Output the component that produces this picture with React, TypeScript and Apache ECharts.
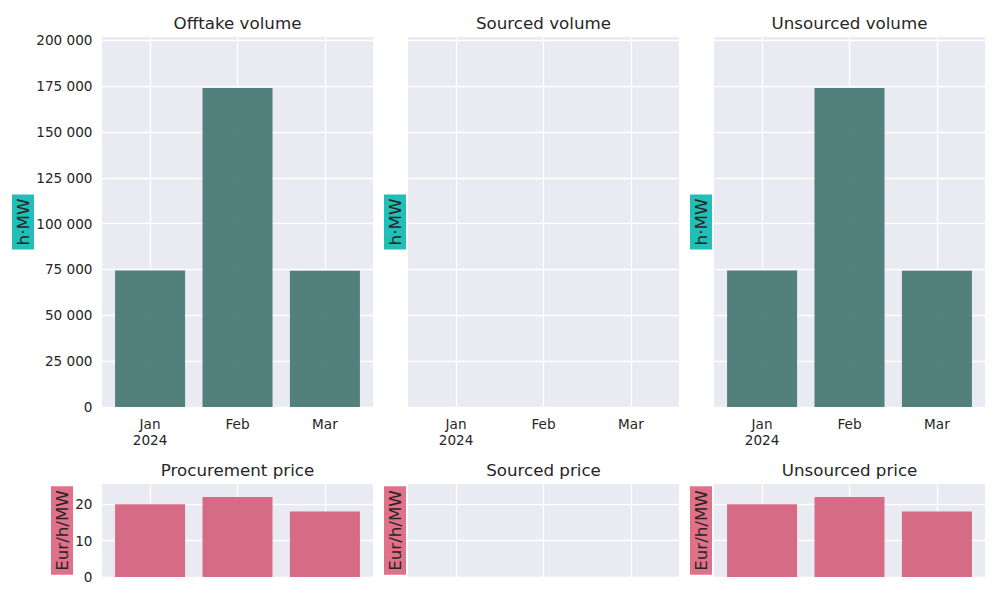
import React, { useEffect, useRef } from "react";
import * as echarts from "echarts";

// Monthly categories
const months = ["Jan\n2024", "Feb", "Mar"];
const monthPos = [0, 1, 2];

// Volumes in h·MW
const offtakeVolume = [74400, 174000, 74300];
const sourcedVolume = [0, 0, 0];
const unsourcedVolume = [74400, 174000, 74300];

// Prices in Eur/h/MW
const procurementPrice = [20, 22, 18];
const sourcedPrice = [0, 0, 0];
const unsourcedPrice = [20, 22, 18];

const volumeTicks = [0, 25000, 50000, 75000, 100000, 125000, 150000, 175000, 200000];
const priceTicks = [0, 10, 20];

const volumeTitles = ["Offtake volume", "Sourced volume", "Unsourced volume"];
const priceTitles = ["Procurement price", "Sourced price", "Unsourced price"];

const FONT = "DejaVu Sans";
const TEXT = "#262626";
const BG = "#EAEAF2";
const TEAL = "#437673";
const PINK = "#d35f7b";
const TEAL_BOX = "#22beb8";
const PINK_BOX = "#df7189";

const panelLeft = [102, 408, 714];
const panelWidth = 271;
const topY = 37;
const topH = 370;
const botY = 484;
const botH = 93;

function fmtThousands(v: number) {
  return String(v).replace(/\B(?=(\d{3})+(?!\d))/g, " ");
}

export default function App() {
  const ref = useRef<HTMLDivElement>(null);

  useEffect(() => {
    if (!ref.current) return;
    const chart = echarts.init(ref.current, undefined, { renderer: "svg" });

    const grids: any[] = [];
    const xAxes: any[] = [];
    const yAxes: any[] = [];
    const series: any[] = [];
    const titles: any[] = [];
    const graphics: any[] = [];

    const volumeSets = [offtakeVolume, sourcedVolume, unsourcedVolume];
    const priceSets = [procurementPrice, sourcedPrice, unsourcedPrice];

    const addPanel = (
      col: number,
      top: number,
      height: number,
      values: number[],
      ticks: number[],
      yMax: number,
      color: string,
      title: string,
      showXLabels: boolean,
      formatter: (v: number) => string,
      unit: string,
      boxColor: string,
      labelOffset: number
    ) => {
      const idx = grids.length;
      grids.push({
        left: panelLeft[col],
        top,
        width: panelWidth,
        height,
        show: true,
        backgroundColor: BG,
        borderWidth: 0,
      });
      xAxes.push({
        type: "value",
        gridIndex: idx,
        min: -0.55,
        max: 2.55,
        axisLine: { show: false },
        axisTick: { show: false, customValues: monthPos },
        splitLine: { show: true, lineStyle: { color: "#ffffff", width: 1.3 } },
        axisLabel: {
          show: showXLabels,
          customValues: monthPos,
          formatter: (v: number) => months[Math.round(v)] ?? "",
          color: TEXT,
          fontFamily: FONT,
          fontSize: 13.6,
          lineHeight: 16,
          margin: 9,
        },
      });
      yAxes.push({
        type: "value",
        gridIndex: idx,
        min: 0,
        max: yMax,
        axisLine: { show: false },
        axisTick: { show: false, customValues: ticks },
        splitLine: { show: true, lineStyle: { color: "#ffffff", width: 1.3 } },
        axisLabel: {
          show: col === 0,
          customValues: ticks,
          formatter,
          color: TEXT,
          fontFamily: FONT,
          fontSize: 13.6,
          margin: 9.5,
        },
      });
      series.push({
        type: "bar",
        xAxisIndex: idx,
        yAxisIndex: idx,
        barWidth: 70,
        itemStyle: { color, opacity: 0.92 },
        data: values.map((v, i) => [monthPos[i], v]),
      });
      titles.push({
        text: title,
        left: panelLeft[col] + panelWidth / 2,
        top: top - 23,
        padding: 0,
        textAlign: "center",
        textStyle: {
          fontFamily: FONT,
          fontSize: 16.7,
          fontWeight: "normal",
          color: TEXT,
        },
      });
      graphics.push({
        type: "text",
        x: panelLeft[col] - labelOffset,
        y: top + height / 2,
        rotation: Math.PI / 2,
        style: {
          text: unit,
          fontFamily: FONT,
          fontSize: 16.7,
          fill: TEXT,
          align: "center",
          verticalAlign: "middle",
          backgroundColor: boxColor,
          padding: [3, 4, 2, 4],
        },
      });
    };

    for (let c = 0; c < 3; c++) {
      addPanel(
        c,
        topY,
        topH,
        volumeSets[c],
        volumeTicks,
        201800,
        TEAL,
        volumeTitles[c],
        true,
        (v: number) => fmtThousands(v),
        "h·MW",
        TEAL_BOX,
        c === 0 ? 79 : 13
      );
    }
    for (let c = 0; c < 3; c++) {
      addPanel(
        c,
        botY,
        botH,
        priceSets[c],
        priceTicks,
        25.6,
        PINK,
        priceTitles[c],
        false,
        (v: number) => String(v),
        "Eur/h/MW",
        PINK_BOX,
        c === 0 ? 40 : 13
      );
    }

    chart.setOption({
      animation: false,
      backgroundColor: "#ffffff",
      title: titles,
      grid: grids,
      xAxis: xAxes,
      yAxis: yAxes,
      series,
      graphic: graphics,
    });

    return () => chart.dispose();
  }, []);

  return <div ref={ref} style={{ width: 1000, height: 600, margin: -8 }} />;
}
